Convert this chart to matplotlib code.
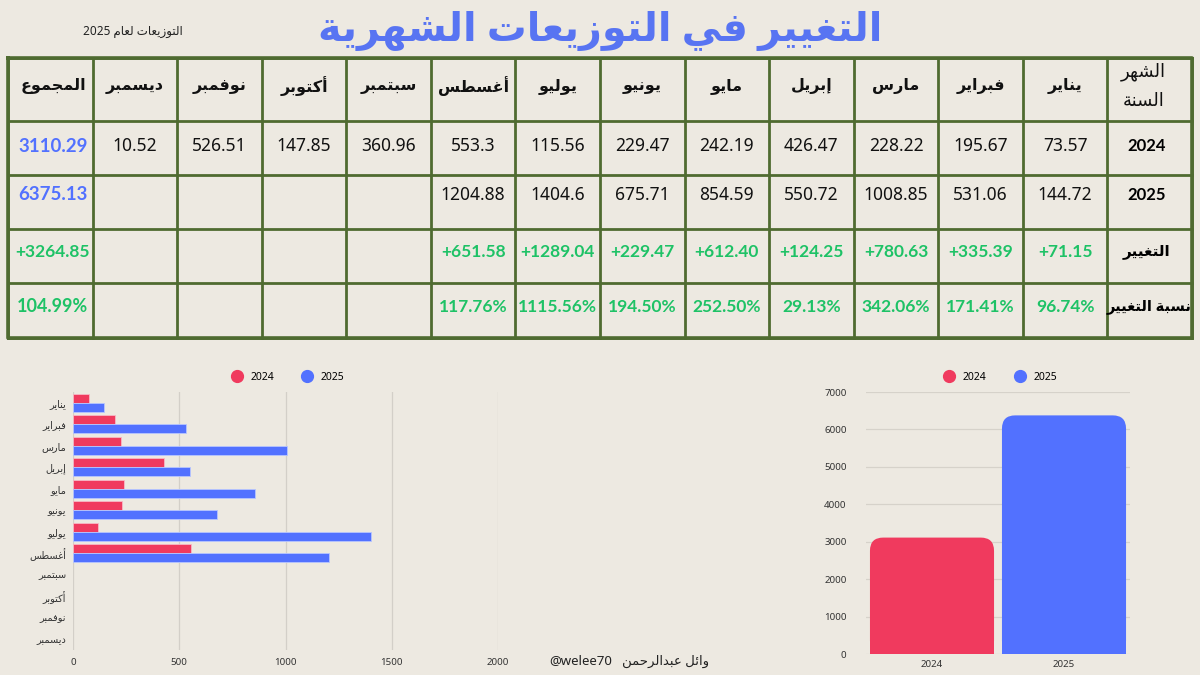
import re
import numpy as np
import matplotlib
matplotlib.use("Agg")
import matplotlib.pyplot as plt
from matplotlib.lines import Line2D
from matplotlib.patches import FancyBboxPatch

plt.rcParams['font.family'] = ['Noto Sans', 'DejaVu Sans']
BOLD_FAM = ['Lato', 'DejaVu Sans']

# ---- data ----
months = ['يناير', 'فبراير', 'مارس', 'إبريل', 'مايو', 'يونيو', 'يوليو',
          'أغسطس', 'سبتمبر', 'أكتوبر', 'نوفمبر', 'ديسمبر']
vals_2024 = [73.57, 195.67, 228.22, 426.47, 242.19, 229.47, 115.56,
             553.3, 360.96, 147.85, 526.51, 10.52]
vals_2025 = [144.72, 531.06, 1008.85, 550.72, 854.59, 675.71, 1404.6, 1204.88]
change_txt = ['+71.15', '+335.39', '+780.63', '+124.25', '+612.40',
              '+229.47', '+1289.04', '+651.58']
pct_txt = ['96.74%', '171.41%', '342.06%', '29.13%', '252.50%',
           '194.50%', '1115.56%', '117.76%']
total_2024 = 3110.29
total_2025 = 6375.13
total_change = '+3264.85'
total_pct = '104.99%'
years = ['2024', '2025']

BG = '#ede9e1'
RED = '#f03a5e'
BLUE = '#5271ff'
GREEN = '#1ec266'
LINE = '#4f6b30'

# ---- minimal arabic shaping (presentation forms + visual order) ----
FORMS = {
    'ا': (0xFE8D, 2), 'أ': (0xFE83, 2), 'إ': (0xFE87, 2), 'ئ': (0xFE89, 4),
    'ب': (0xFE8F, 4), 'ة': (0xFE93, 2), 'ت': (0xFE95, 4), 'ج': (0xFE9D, 4),
    'ح': (0xFEA1, 4), 'د': (0xFEA9, 2), 'ر': (0xFEAD, 2), 'ز': (0xFEAF, 2),
    'س': (0xFEB1, 4), 'ش': (0xFEB5, 4), 'ط': (0xFEC1, 4), 'ع': (0xFEC9, 4),
    'غ': (0xFECD, 4), 'ف': (0xFED1, 4), 'ك': (0xFED9, 4), 'ل': (0xFEDD, 4),
    'م': (0xFEE1, 4), 'ن': (0xFEE5, 4), 'ه': (0xFEE9, 4), 'و': (0xFEED, 2),
    'ي': (0xFEF1, 4),
}


def shape(word):
    out = []
    for i, ch in enumerate(word):
        if ch not in FORMS:
            out.append(ch)
            continue
        base, k = FORMS[ch]
        prev = word[i - 1] if i > 0 else ''
        nxt = word[i + 1] if i + 1 < len(word) else ''
        jp = prev in FORMS and FORMS[prev][1] == 4
        jn = k == 4 and nxt in FORMS
        if jp and jn:
            cp = base + 3
        elif jp:
            cp = base + 1
        elif jn:
            cp = base + 2
        else:
            cp = base
        out.append(chr(cp))
    return ''.join(out)


def ar(text):
    latin = r'[0-9A-Za-z@.%+]'
    runs = re.findall(latin + r'+|[^0-9A-Za-z@.%+]+', text)
    vis = [r if re.match(latin, r) else shape(r)[::-1] for r in runs]
    return ''.join(vis[::-1])


fig = plt.figure(figsize=(12, 6.75), dpi=100, facecolor=BG)
bg = fig.add_axes([0, 0, 1, 1])
bg.set_xlim(0, 1200)
bg.set_ylim(675, 0)
bg.axis('off')
bg.set_facecolor(BG)

# title + subtitle
bg.text(600, 31, ar('التغيير في التوزيعات الشهرية'), fontsize=28.5,
        fontweight='bold', color='#5874f2', ha='center', va='center')
bg.text(133, 32, ar('التوزيعات لعام 2025'), fontsize=8.5, color='#222',
        ha='center', va='center')

# ---- table ----
xs = np.linspace(8, 1192, 15)
ys = [58, 121, 175, 229, 283, 338]
for y in ys:
    bg.plot([xs[0], xs[-1]], [y, y], color=LINE, lw=2, solid_capstyle='projecting')
for x in xs:
    bg.plot([x, x], [ys[0], ys[-1]], color=LINE, lw=2, solid_capstyle='projecting')
bg.plot([xs[0], xs[-1], xs[-1], xs[0], xs[0]],
        [ys[0], ys[0], ys[-1], ys[-1], ys[0]], color=LINE, lw=2.6)

cx = (xs[:-1] + xs[1:]) / 2
row_y = [86, 146, 195, 252, 307]

# header row
for i, m in enumerate(months):
    bg.text(cx[12 - i], row_y[0], ar(m), fontsize=11.5, fontweight='bold',
            ha='center', va='center', color='#111')
bg.text(cx[0] + 3, row_y[0], ar('المجموع'), fontsize=11.5, fontweight='bold',
        ha='center', va='center', color='#111')
bg.text(cx[13] - 6, 72, ar('الشهر'), fontsize=13, ha='center', va='center', color='#111')
bg.text(cx[13] - 6, 101, ar('السنة'), fontsize=13, ha='center', va='center', color='#111')

# row labels
bg.text(cx[13] - 3, row_y[1], years[0], fontsize=12, fontweight='bold', family=BOLD_FAM,
        ha='center', va='center')
bg.text(cx[13] - 3, row_y[2], years[1], fontsize=12, fontweight='bold', family=BOLD_FAM,
        ha='center', va='center')
bg.text(cx[13] - 3, row_y[3], ar('التغيير'), fontsize=11, fontweight='bold',
        ha='center', va='center')
bg.text(cx[13] - 1, row_y[4], ar('نسبة التغيير'), fontsize=10.5, fontweight='bold',
        ha='center', va='center')

for i, v in enumerate(vals_2024):
    bg.text(cx[12 - i], row_y[1], f'{v:g}', fontsize=12.5, ha='center', va='center', color='#111')
for i, v in enumerate(vals_2025):
    bg.text(cx[12 - i], row_y[2], f'{v:g}', fontsize=12.5, ha='center', va='center', color='#111')
for i, t in enumerate(change_txt):
    bg.text(cx[12 - i], row_y[3], t, fontsize=12.5, fontweight='bold', family=BOLD_FAM,
            ha='center', va='center', color=GREEN)
for i, t in enumerate(pct_txt):
    bg.text(cx[12 - i], row_y[4], t, fontsize=12.5, fontweight='bold', family=BOLD_FAM,
            ha='center', va='center', color=GREEN)

rx = xs[1] - 5
bg.text(rx, row_y[1], f'{total_2024:.2f}', fontsize=13.5, fontweight='bold', family=BOLD_FAM,
        ha='right', va='center', color=BLUE)
bg.text(rx, row_y[2], f'{total_2025:.2f}', fontsize=13.5, fontweight='bold', family=BOLD_FAM,
        ha='right', va='center', color=BLUE)
bg.text(rx + 2, row_y[3], total_change, fontsize=12.5, fontweight='bold', family=BOLD_FAM,
        ha='right', va='center', color=GREEN)
bg.text(rx, row_y[4], total_pct, fontsize=13, fontweight='bold', family=BOLD_FAM,
        ha='right', va='center', color=GREEN)

# footer
bg.text(612, 661, '@welee70', fontsize=9.5, ha='right', va='center', color='#222')
bg.text(622, 661, ar('وائل عبدالرحمن'), fontsize=9.5, ha='left', va='center', color='#222')

legend_handles = [
    Line2D([], [], marker='o', ls='', color=RED, markersize=8.5, label=years[0]),
    Line2D([], [], marker='o', ls='', color=BLUE, markersize=8.5, label=years[1]),
]

# ---- horizontal bar chart (only months with data in both years) ----
n_done = len(vals_2025)
ax1 = fig.add_axes([73 / 1200, 1 - 650 / 675, 425 / 1200, 258 / 675])
ax1.set_facecolor('none')
pos = np.arange(len(months))
ax1.barh(pos[:n_done] - 0.22, vals_2024[:n_done], height=0.42, color=RED,
         edgecolor='#f7b9c6', lw=0.6, zorder=3)
ax1.barh(pos[:n_done] + 0.22, vals_2025, height=0.42, color=BLUE,
         edgecolor='#b8c6ff', lw=0.6, zorder=3)
ax1.set_xlim(0, 2000)
ax1.set_ylim(11.5, -0.5)
ax1.set_xticks([0, 500, 1000, 1500, 2000])
ax1.set_yticks(pos)
ax1.set_yticklabels([ar(m) for m in months], fontsize=7, color='#333')
ax1.tick_params(axis='x', labelsize=7, colors='#333', length=0, pad=6)
ax1.tick_params(axis='y', length=0, pad=5)
ax1.grid(axis='x', color='#d3cfc8', lw=0.9, zorder=0)
for s in ax1.spines.values():
    s.set_visible(False)
ax1.legend(handles=legend_handles, loc='lower center', bbox_to_anchor=(0.5, 1.0),
           ncol=2, frameon=False, fontsize=7.5, handletextpad=0.3, columnspacing=2.2)

# ---- totals chart ----
ax2 = fig.add_axes([866 / 1200, 1 - 654 / 675, 264 / 1200, 262 / 675])
ax2.set_facecolor('none')
totals = [total_2024, total_2025]
bars = ax2.bar(years, totals, width=0.94, color=[RED, BLUE], zorder=3)
ax2.set_xlim(-0.5, 1.5)
ax2.set_ylim(0, 7000)
ax2.set_yticks(range(0, 7001, 1000))
ax2.tick_params(axis='y', labelsize=7, colors='#333', length=0, pad=14)
ax2.tick_params(axis='x', labelsize=7, colors='#333', length=0, pad=4)
ax2.grid(axis='y', color='#d6d2ca', lw=0.9, zorder=0)
for s in ax2.spines.values():
    s.set_visible(False)

aspect = (7000 / ax2.bbox.height) / (2.0 / ax2.bbox.width)
for b in bars:
    x0, w, h = b.get_x(), b.get_width(), b.get_height()
    rp = FancyBboxPatch((x0, 0), w, h, boxstyle='round,pad=0,rounding_size=0.1',
                        mutation_aspect=aspect, facecolor=b.get_facecolor(),
                        edgecolor='none', zorder=3)
    ax2.add_patch(rp)
    b.set_height(h * 0.5)

ax2.legend(handles=legend_handles, loc='lower center', bbox_to_anchor=(0.5, 1.0),
           ncol=2, frameon=False, fontsize=7.5, handletextpad=0.3, columnspacing=2.2)

fig.savefig('out.png', dpi=100, facecolor=BG)
